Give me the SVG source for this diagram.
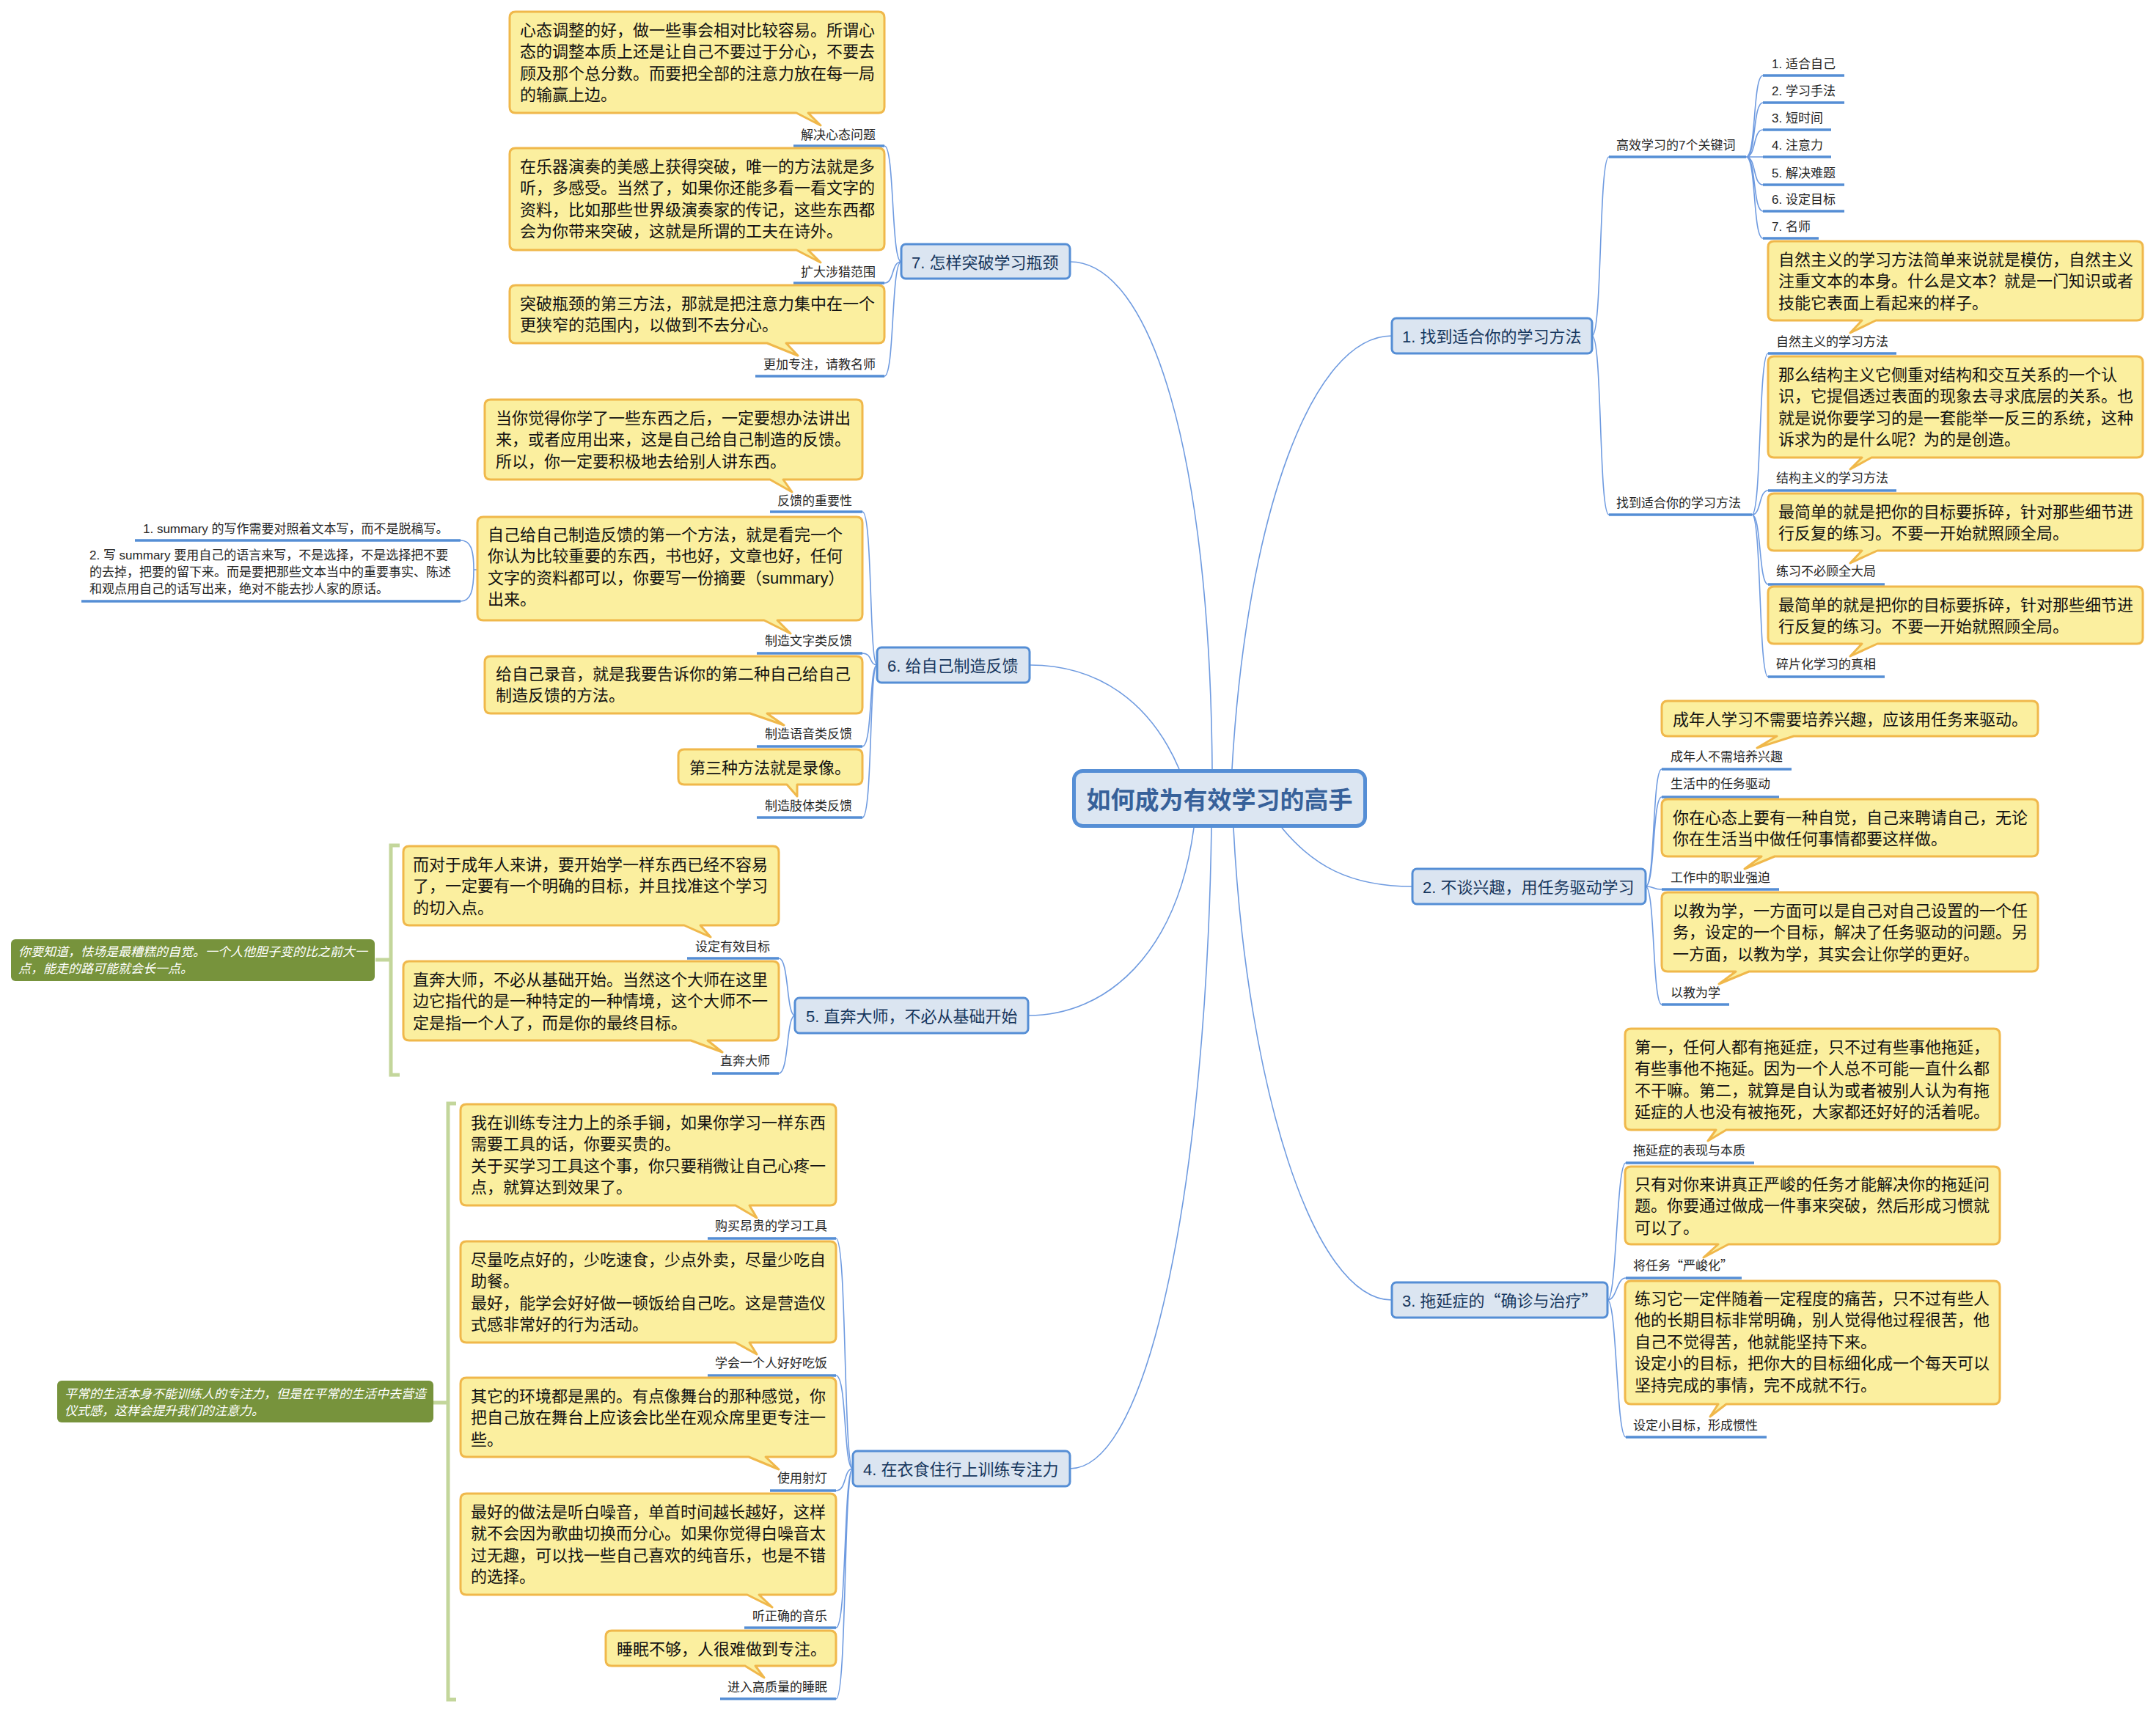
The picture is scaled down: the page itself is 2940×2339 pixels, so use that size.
<svg xmlns="http://www.w3.org/2000/svg" width="2940" height="2339" viewBox="0 0 2940 2339">
<style>
text{font-family:"Liberation Sans","Noto Sans CJK SC",sans-serif}
.cj{font-family:"Noto Sans CJK SC",sans-serif}
.co{fill:#fbef9f;stroke:#f0b84b;stroke-width:3;stroke-linejoin:round}
.ct{font-size:22px;fill:#111}
.lb{font-size:17px;fill:#262626}
.lbe{font-size:17px;fill:#262626;text-anchor:end}
.ul{stroke:#558ed5;stroke-width:3.5;fill:none}
.ln{stroke:#6f9be0;stroke-width:1.6;fill:none}
.mt{fill:#dbe5f1;stroke:#558ed5;stroke-width:3}
.mtt{font-size:22px;fill:#17375e}
.sm{fill:#77933c}
.smt{font-size:17px;font-style:italic;fill:#fff}
.br{stroke:#c3d69b;stroke-width:5;fill:none}
</style>
<rect width="2940" height="2339" fill="#fff"/>

<g id="connectors">
<path class="ln" d="M1653,1049 C1650,620 1570,357 1459,357"/>
<path class="ln" d="M1608,1049 C1570,960 1500,907 1404,907"/>
<path class="ln" d="M1680,1049 C1700,700 1790,458 1898,458"/>
<path class="ln" d="M1748,1129 C1790,1180 1840,1209 1926,1209"/>
<path class="ln" d="M1682,1129 C1700,1480 1790,1773 1898,1773"/>
<path class="ln" d="M1652,1129 C1645,1600 1570,2003 1459,2003"/>
<path class="ln" d="M1628,1129 C1605,1300 1510,1385 1402,1385"/>
<path class="ln" d="M1229,357 C1215,357 1220,199 1206,199 M1229,357 C1215,357 1220,386 1206,386 M1229,357 C1215,357 1220,513 1206,513"/>
<path class="ln" d="M1196,907 C1185,907 1190,698 1176,698 M1196,907 C1185,907 1190,891 1176,891 M1196,907 C1185,907 1190,1018 1176,1018 M1196,907 C1185,907 1190,1115 1176,1115"/>
<path class="ln" d="M628,737 C642,737 646,750 646,777 M628,820 C642,820 646,805 646,777 M646,777 H651"/>
<path class="ln" d="M1084,1385 C1072,1385 1076,1307 1062,1307 M1084,1385 C1072,1385 1076,1464 1062,1464"/>
<path class="ln" d="M1163,2003 C1150,2003 1155,1689 1140,1689 M1163,2003 C1150,2003 1155,1876 1140,1876 M1163,2003 C1150,2003 1155,2033 1140,2033 M1163,2003 C1150,2003 1155,2220 1140,2220 M1163,2003 C1150,2003 1155,2317 1140,2317"/>
<path class="ln" d="M2171,458 C2185,458 2180,214 2194,214 M2171,458 C2185,458 2180,702 2194,702"/>
<path class="ln" d="M2381,214 C2395,214 2390,103 2404,103 M2381,214 C2395,214 2390,140 2404,140 M2381,214 C2395,214 2390,177 2404,177 M2381,214 H2404 M2381,214 C2395,214 2390,252 2404,252 M2381,214 C2395,214 2390,288 2404,288 M2381,214 C2395,214 2390,325 2404,325"/>
<path class="ln" d="M2389,702 C2402,702 2398,482 2411,482 M2389,702 C2402,702 2398,669 2411,669 M2389,702 C2402,702 2398,797 2411,797 M2389,702 C2402,702 2398,923 2411,923"/>
<path class="ln" d="M2244,1209 C2257,1209 2253,1049 2266,1049 M2244,1209 C2257,1209 2253,1087 2266,1087 M2244,1209 C2257,1209 2253,1213 2266,1213 M2244,1209 C2257,1209 2253,1370 2266,1370"/>
<path class="ln" d="M2192,1773 C2205,1773 2204,1586 2217,1586 M2192,1773 C2205,1773 2204,1743 2217,1743 M2192,1773 C2205,1773 2204,1960 2217,1960"/>
</g>

<g id="central">
<rect x="1464.5" y="1051.5" width="397" height="75" rx="12" fill="#dce6f2" stroke="#558ed5" stroke-width="5"/>
<text x="1663" y="1103" text-anchor="middle" font-size="33" font-weight="bold" fill="#37619a">如何成为有效学习的高手</text>
</g>

<!-- Topic 7 -->
<g id="topic7">
<rect class="mt" x="1229" y="333" width="230" height="47" rx="6"/>
<text class="mtt" x="1243" y="366">7. 怎样突破学习瓶颈</text>
</g>
<g id="t7-a">
<path class="co" d="M703,16 H1198 Q1206,16 1206,24 V146 Q1206,154 1198,154 H1102 L1119,171 L1086,154 H703 Q695,154 695,146 V24 Q695,16 703,16 Z"/>
<text class="ct" x="709"><tspan x="709" y="49">心态调整的好，做一些事会相对比较容易。所谓心</tspan><tspan x="709" y="78">态的调整本质上还是让自己不要过于分心，不要去</tspan><tspan x="709" y="108">顾及那个总分数。而要把全部的注意力放在每一局</tspan><tspan x="709" y="137">的输赢上边。</tspan></text>
<text class="lbe" x="1194" y="190">解决心态问题</text>
<line class="ul" x1="1082" y1="199" x2="1206" y2="199"/>
</g>
<g id="t7-b">
<path class="co" d="M703,202 H1198 Q1206,202 1206,210 V333 Q1206,341 1198,341 H1102 L1119,358 L1086,341 H703 Q695,341 695,333 V210 Q695,202 703,202 Z"/>
<text class="ct"><tspan x="709" y="235">在乐器演奏的美感上获得突破，唯一的方法就是多</tspan><tspan x="709" y="264">听，多感受。当然了，如果你还能多看一看文字的</tspan><tspan x="709" y="294">资料，比如那些世界级演奏家的传记，这些东西都</tspan><tspan x="709" y="323">会为你带来突破，这就是所谓的工夫在诗外。</tspan></text>
<text class="lbe" x="1194" y="377">扩大涉猎范围</text>
<line class="ul" x1="1082" y1="386" x2="1206" y2="386"/>
</g>
<g id="t7-c">
<path class="co" d="M703,389 H1198 Q1206,389 1206,397 V460 Q1206,468 1198,468 H1072 L1088,485 L1046,468 H703 Q695,468 695,460 V397 Q695,389 703,389 Z"/>
<text class="ct"><tspan x="709" y="422">突破瓶颈的第三方法，那就是把注意力集中在一个</tspan><tspan x="709" y="451">更狭窄的范围内，以做到不去分心。</tspan></text>
<text class="lbe" x="1194" y="503">更加专注，请教名师</text>
<line class="ul" x1="1030" y1="513" x2="1206" y2="513"/>
</g>

<!-- Topic 6 -->
<g id="topic6">
<rect class="mt" x="1196" y="883" width="208" height="48" rx="6"/>
<text class="mtt" x="1210" y="916">6. 给自己制造反馈</text>
</g>
<g id="t6-a">
<path class="co" d="M669,545 H1168 Q1176,545 1176,553 V646 Q1176,654 1168,654 H1068 L1080,671 L1050,654 H669 Q661,654 661,646 V553 Q661,545 669,545 Z"/>
<text class="ct"><tspan x="676" y="578">当你觉得你学了一些东西之后，一定要想办法讲出</tspan><tspan x="676" y="607">来，或者应用出来，这是自己给自己制造的反馈。</tspan><tspan x="676" y="637">所以，你一定要积极地去给别人讲东西。</tspan></text>
<text class="lbe" x="1162" y="689">反馈的重要性</text>
<line class="ul" x1="1050" y1="698" x2="1176" y2="698"/>
</g>
<g id="t6-b">
<path class="co" d="M659,705 H1168 Q1176,705 1176,713 V838 Q1176,846 1168,846 H1060 L1078,864 L1042,846 H659 Q651,846 651,838 V713 Q651,705 659,705 Z"/>
<text class="ct"><tspan x="665" y="737">自己给自己制造反馈的第一个方法，就是看完一个</tspan><tspan x="665" y="766">你认为比较重要的东西，书也好，文章也好，任何</tspan><tspan x="665" y="796">文字的资料都可以，你要写一份摘要（summary）</tspan><tspan x="665" y="825">出来。</tspan></text>
<text class="lbe" x="1162" y="880">制造文字类反馈</text>
<line class="ul" x1="1032" y1="891" x2="1176" y2="891"/>
</g>
<g id="t6-b1">
<text class="lb" x="195" y="727">1. summary 的写作需要对照着文本写，而不是脱稿写。</text>
<line class="ul" x1="184" y1="737" x2="628" y2="737"/>
</g>
<g id="t6-b2">
<text class="lb"><tspan x="122" y="763">2. 写 summary 要用自己的语言来写，不是选择，不是选择把不要</tspan><tspan x="122" y="786">的去掉，把要的留下来。而是要把那些文本当中的重要事实、陈述</tspan><tspan x="122" y="809">和观点用自己的话写出来，绝对不能去抄人家的原话。</tspan></text>
<line class="ul" x1="111" y1="820" x2="628" y2="820"/>
</g>
<g id="t6-c">
<path class="co" d="M669,895 H1168 Q1176,895 1176,903 V965 Q1176,973 1168,973 H1046 L1069,989 L1023,973 H669 Q661,973 661,965 V903 Q661,895 669,895 Z"/>
<text class="ct"><tspan x="676" y="927">给自己录音，就是我要告诉你的第二种自己给自己</tspan><tspan x="676" y="956">制造反馈的方法。</tspan></text>
<text class="lbe" x="1162" y="1007">制造语音类反馈</text>
<line class="ul" x1="1032" y1="1018" x2="1176" y2="1018"/>
</g>
<g id="t6-d">
<path class="co" d="M933,1022 H1168 Q1176,1022 1176,1030 V1062 Q1176,1070 1168,1070 H1087 L1087,1086 L1073,1070 H933 Q925,1070 925,1062 V1030 Q925,1022 933,1022 Z"/>
<text class="ct" x="940" y="1055">第三种方法就是录像。</text>
<text class="lbe" x="1162" y="1105">制造肢体类反馈</text>
<line class="ul" x1="1032" y1="1115" x2="1176" y2="1115"/>
</g>

<!-- Topic 5 -->
<g id="topic5">
<rect class="mt" x="1084" y="1361" width="318" height="48" rx="6"/>
<text class="mtt" x="1099" y="1394">5. 直奔大师，不必从基础开始</text>
</g>
<g id="t5-a">
<path class="co" d="M558,1154 H1054 Q1062,1154 1062,1162 V1254 Q1062,1262 1054,1262 H955 L969,1278 L933,1262 H558 Q550,1262 550,1254 V1162 Q550,1154 558,1154 Z"/>
<text class="ct"><tspan x="563" y="1187">而对于成年人来讲，要开始学一样东西已经不容易</tspan><tspan x="563" y="1216">了，一定要有一个明确的目标，并且找准这个学习</tspan><tspan x="563" y="1246">的切入点。</tspan></text>
<text class="lbe" x="1050" y="1297">设定有效目标</text>
<line class="ul" x1="937" y1="1307" x2="1062" y2="1307"/>
</g>
<g id="t5-b">
<path class="co" d="M558,1311 H1054 Q1062,1311 1062,1319 V1411 Q1062,1419 1054,1419 H965 L985,1435 L942,1419 H558 Q550,1419 550,1411 V1319 Q550,1311 558,1311 Z"/>
<text class="ct"><tspan x="563" y="1344">直奔大师，不必从基础开始。当然这个大师在这里</tspan><tspan x="563" y="1373">边它指代的是一种特定的一种情境，这个大师不一</tspan><tspan x="563" y="1403">定是指一个人了，而是你的最终目标。</tspan></text>
<text class="lbe" x="1050" y="1453">直奔大师</text>
<line class="ul" x1="971" y1="1464" x2="1062" y2="1464"/>
</g>
<g id="t5-summary">
<path class="br" d="M545,1153 H533 V1466 H545 M512,1309 H533"/>
<rect class="sm" x="15" y="1281" width="496" height="57" rx="6"/>
<text class="smt"><tspan x="25" y="1304">你要知道，怯场是最糟糕的自觉。一个人他胆子变的比之前大一</tspan><tspan x="25" y="1327">点，能走的路可能就会长一点。</tspan></text>
</g>

<!-- Topic 4 -->
<g id="topic4">
<rect class="mt" x="1163" y="1979" width="296" height="48" rx="6"/>
<text class="mtt" x="1177" y="2012">4. 在衣食住行上训练专注力</text>
</g>
<g id="t4-a">
<path class="co" d="M636,1506 H1132 Q1140,1506 1140,1514 V1636 Q1140,1644 1132,1644 H1022 L1032,1661 L1003,1644 H636 Q628,1644 628,1636 V1514 Q628,1506 636,1506 Z"/>
<text class="ct"><tspan x="642" y="1539">我在训练专注力上的杀手锏，如果你学习一样东西</tspan><tspan x="642" y="1568">需要工具的话，你要买贵的。</tspan><tspan x="642" y="1598">关于买学习工具这个事，你只要稍微让自己心疼一</tspan><tspan x="642" y="1627">点，就算达到效果了。</tspan></text>
<text class="lbe" x="1128" y="1678">购买昂贵的学习工具</text>
<line class="ul" x1="965" y1="1689" x2="1140" y2="1689"/>
</g>
<g id="t4-b">
<path class="co" d="M636,1693 H1132 Q1140,1693 1140,1701 V1823 Q1140,1831 1132,1831 H1022 L1032,1847 L1003,1831 H636 Q628,1831 628,1823 V1701 Q628,1693 636,1693 Z"/>
<text class="ct"><tspan x="642" y="1726">尽量吃点好的，少吃速食，少点外卖，尽量少吃自</tspan><tspan x="642" y="1755">助餐。</tspan><tspan x="642" y="1785">最好，能学会好好做一顿饭给自己吃。这是营造仪</tspan><tspan x="642" y="1814">式感非常好的行为活动。</tspan></text>
<text class="lbe" x="1128" y="1865">学会一个人好好吃饭</text>
<line class="ul" x1="965" y1="1876" x2="1140" y2="1876"/>
</g>
<g id="t4-c">
<path class="co" d="M636,1879 H1132 Q1140,1879 1140,1887 V1979 Q1140,1987 1132,1987 H1044 L1062,2004 L1021,1987 H636 Q628,1987 628,1979 V1887 Q628,1879 636,1879 Z"/>
<text class="ct"><tspan x="642" y="1912">其它的环境都是黑的。有点像舞台的那种感觉，你</tspan><tspan x="642" y="1941">把自己放在舞台上应该会比坐在观众席里更专注一</tspan><tspan x="642" y="1971">些。</tspan></text>
<text class="lbe" x="1128" y="2022">使用射灯</text>
<line class="ul" x1="1050" y1="2033" x2="1140" y2="2033"/>
</g>
<g id="t4-d">
<path class="co" d="M636,2037 H1132 Q1140,2037 1140,2045 V2167 Q1140,2175 1132,2175 H1035 L1053,2192 L1019,2175 H636 Q628,2175 628,2167 V2045 Q628,2037 636,2037 Z"/>
<text class="ct"><tspan x="642" y="2070">最好的做法是听白噪音，单首时间越长越好，这样</tspan><tspan x="642" y="2099">就不会因为歌曲切换而分心。如果你觉得白噪音太</tspan><tspan x="642" y="2129">过无趣，可以找一些自己喜欢的纯音乐，也是不错</tspan><tspan x="642" y="2158">的选择。</tspan></text>
<text class="lbe" x="1128" y="2210">听正确的音乐</text>
<line class="ul" x1="1015" y1="2220" x2="1140" y2="2220"/>
</g>
<g id="t4-e">
<path class="co" d="M834,2224 H1132 Q1140,2224 1140,2232 V2264 Q1140,2272 1132,2272 H1030 L1042,2288 L1016,2272 H834 Q826,2272 826,2264 V2232 Q826,2224 834,2224 Z"/>
<text class="ct" x="841" y="2257">睡眠不够，人很难做到专注。</text>
<text class="lbe" x="1128" y="2307">进入高质量的睡眠</text>
<line class="ul" x1="982" y1="2317" x2="1140" y2="2317"/>
</g>
<g id="t4-summary">
<path class="br" d="M622,1505 H611 V2318 H622 M590,1913 H611"/>
<rect class="sm" x="78" y="1883" width="513" height="57" rx="6"/>
<text class="smt"><tspan x="88" y="1907">平常的生活本身不能训练人的专注力，但是在平常的生活中去营造</tspan><tspan x="88" y="1930">仪式感，这样会提升我们的注意力。</tspan></text>
</g>

<!-- Topic 1 -->
<g id="topic1">
<rect class="mt" x="1898" y="434" width="273" height="48" rx="6"/>
<text class="mtt" x="1912" y="467">1. 找到适合你的学习方法</text>
</g>
<g id="t1-keywords">
<text class="lb" x="2204" y="204">高效学习的7个关键词</text>
<line class="ul" x1="2194" y1="214" x2="2381" y2="214"/>
</g>
<g id="t1-k1"><text class="lb" x="2416" y="93">1. 适合自己</text><line class="ul" x1="2404" y1="103" x2="2515" y2="103"/></g>
<g id="t1-k2"><text class="lb" x="2416" y="130">2. 学习手法</text><line class="ul" x1="2404" y1="140" x2="2515" y2="140"/></g>
<g id="t1-k3"><text class="lb" x="2416" y="167">3. 短时间</text><line class="ul" x1="2404" y1="177" x2="2497" y2="177"/></g>
<g id="t1-k4"><text class="lb" x="2416" y="204">4. 注意力</text><line class="ul" x1="2404" y1="214" x2="2497" y2="214"/></g>
<g id="t1-k5"><text class="lb" x="2416" y="242">5. 解决难题</text><line class="ul" x1="2404" y1="252" x2="2515" y2="252"/></g>
<g id="t1-k6"><text class="lb" x="2416" y="278">6. 设定目标</text><line class="ul" x1="2404" y1="288" x2="2515" y2="288"/></g>
<g id="t1-k7"><text class="lb" x="2416" y="315">7. 名师</text><line class="ul" x1="2404" y1="325" x2="2480" y2="325"/></g>
<g id="t1-methods">
<text class="lb" x="2204" y="692">找到适合你的学习方法</text>
<line class="ul" x1="2194" y1="702" x2="2389" y2="702"/>
</g>
<g id="t1-m1">
<path class="co" d="M2419,329 H2914 Q2922,329 2922,337 V429 Q2922,437 2914,437 H2558 L2523,454 L2539,437 H2419 Q2411,437 2411,429 V337 Q2411,329 2419,329 Z"/>
<text class="ct"><tspan x="2425" y="362">自然主义的学习方法简单来说就是模仿，自然主义</tspan><tspan x="2425" y="391">注重文本的本身。什么是文本？就是一门知识或者</tspan><tspan x="2425" y="421">技能它表面上看起来的样子。</tspan></text>
<text class="lb" x="2422" y="472">自然主义的学习方法</text>
<line class="ul" x1="2411" y1="482" x2="2586" y2="482"/>
</g>
<g id="t1-m2">
<path class="co" d="M2419,486 H2914 Q2922,486 2922,494 V616 Q2922,624 2914,624 H2552 L2523,640 L2539,624 H2419 Q2411,624 2411,616 V494 Q2411,486 2419,486 Z"/>
<text class="ct"><tspan x="2425" y="519">那么结构主义它侧重对结构和交互关系的一个认</tspan><tspan x="2425" y="548">识，它提倡透过表面的现象去寻求底层的关系。也</tspan><tspan x="2425" y="578">就是说你要学习的是一套能举一反三的系统，这种</tspan><tspan x="2425" y="607">诉求为的是什么呢？为的是创造。</tspan></text>
<text class="lb" x="2422" y="658">结构主义的学习方法</text>
<line class="ul" x1="2411" y1="669" x2="2586" y2="669"/>
</g>
<g id="t1-m3">
<path class="co" d="M2419,673 H2914 Q2922,673 2922,681 V743 Q2922,751 2914,751 H2560 L2523,768 L2539,751 H2419 Q2411,751 2411,743 V681 Q2411,673 2419,673 Z"/>
<text class="ct"><tspan x="2425" y="706">最简单的就是把你的目标要拆碎，针对那些细节进</tspan><tspan x="2425" y="735">行反复的练习。不要一开始就照顾全局。</tspan></text>
<text class="lb" x="2422" y="785">练习不必顾全大局</text>
<line class="ul" x1="2411" y1="797" x2="2570" y2="797"/>
</g>
<g id="t1-m4">
<path class="co" d="M2419,800 H2914 Q2922,800 2922,808 V870 Q2922,878 2914,878 H2560 L2523,895 L2539,878 H2419 Q2411,878 2411,870 V808 Q2411,800 2419,800 Z"/>
<text class="ct"><tspan x="2425" y="833">最简单的就是把你的目标要拆碎，针对那些细节进</tspan><tspan x="2425" y="862">行反复的练习。不要一开始就照顾全局。</tspan></text>
<text class="lb" x="2422" y="912">碎片化学习的真相</text>
<line class="ul" x1="2411" y1="923" x2="2570" y2="923"/>
</g>

<!-- Topic 2 -->
<g id="topic2">
<rect class="mt" x="1926" y="1185" width="318" height="48" rx="6"/>
<text class="mtt" x="1940" y="1218">2. 不谈兴趣，用任务驱动学习</text>
</g>
<g id="t2-a">
<path class="co" d="M2274,956 H2771 Q2779,956 2779,964 V996 Q2779,1004 2771,1004 H2446 L2396,1020 L2423,1004 H2274 Q2266,1004 2266,996 V964 Q2266,956 2274,956 Z"/>
<text class="ct" x="2281" y="989">成年人学习不需要培养兴趣，应该用任务来驱动。</text>
<text class="lb" x="2278" y="1038">成年人不需培养兴趣</text>
<line class="ul" x1="2266" y1="1049" x2="2443" y2="1049"/>
</g>
<g id="t2-b">
<text class="lb" x="2278" y="1075">生活中的任务驱动</text>
<line class="ul" x1="2266" y1="1087" x2="2426" y2="1087"/>
</g>
<g id="t2-c">
<path class="co" d="M2274,1090 H2771 Q2779,1090 2779,1098 V1160 Q2779,1168 2771,1168 H2420 L2379,1185 L2402,1168 H2274 Q2266,1168 2266,1160 V1098 Q2266,1090 2274,1090 Z"/>
<text class="ct"><tspan x="2281" y="1123">你在心态上要有一种自觉，自己来聘请自己，无论</tspan><tspan x="2281" y="1152">你在生活当中做任何事情都要这样做。</tspan></text>
<text class="lb" x="2278" y="1203">工作中的职业强迫</text>
<line class="ul" x1="2266" y1="1213" x2="2426" y2="1213"/>
</g>
<g id="t2-d">
<path class="co" d="M2274,1217 H2771 Q2779,1217 2779,1225 V1317 Q2779,1325 2771,1325 H2385 L2344,1342 L2367,1325 H2274 Q2266,1325 2266,1317 V1225 Q2266,1217 2274,1217 Z"/>
<text class="ct"><tspan x="2281" y="1250">以教为学，一方面可以是自己对自己设置的一个任</tspan><tspan x="2281" y="1279">务，设定的一个目标，解决了任务驱动的问题。另</tspan><tspan x="2281" y="1309">一方面，以教为学，其实会让你学的更好。</tspan></text>
<text class="lb" x="2278" y="1360">以教为学</text>
<line class="ul" x1="2266" y1="1370" x2="2358" y2="1370"/>
</g>

<!-- Topic 3 -->
<g id="topic3">
<rect class="mt" x="1898" y="1749" width="294" height="48" rx="6"/>
<text class="mtt" x="1912" y="1782">3. 拖延症的<tspan class="cj">“</tspan>确诊与治疗<tspan class="cj">”</tspan></text>
</g>
<g id="t3-a">
<path class="co" d="M2224,1403 H2719 Q2727,1403 2727,1411 V1533 Q2727,1541 2719,1541 H2354 L2329,1556 L2340,1541 H2224 Q2216,1541 2216,1533 V1411 Q2216,1403 2224,1403 Z"/>
<text class="ct"><tspan x="2229" y="1436">第一，任何人都有拖延症，只不过有些事他拖延，</tspan><tspan x="2229" y="1465">有些事他不拖延。因为一个人总不可能一直什么都</tspan><tspan x="2229" y="1495">不干嘛。第二，就算是自认为或者被别人认为有拖</tspan><tspan x="2229" y="1524">延症的人也没有被拖死，大家都还好好的活着呢。</tspan></text>
<text class="lb" x="2227" y="1575">拖延症的表现与本质</text>
<line class="ul" x1="2217" y1="1586" x2="2392" y2="1586"/>
</g>
<g id="t3-b">
<path class="co" d="M2224,1591 H2719 Q2727,1591 2727,1599 V1689 Q2727,1697 2719,1697 H2357 L2323,1715 L2343,1697 H2224 Q2216,1697 2216,1689 V1599 Q2216,1591 2224,1591 Z"/>
<text class="ct"><tspan x="2229" y="1623">只有对你来讲真正严峻的任务才能解决你的拖延问</tspan><tspan x="2229" y="1652">题。你要通过做成一件事来突破，然后形成习惯就</tspan><tspan x="2229" y="1682">可以了。</tspan></text>
<text class="lb" x="2227" y="1732">将任务<tspan class="cj">“</tspan>严峻化<tspan class="cj">”</tspan></text>
<line class="ul" x1="2217" y1="1743" x2="2375" y2="1743"/>
</g>
<g id="t3-c">
<path class="co" d="M2224,1747 H2719 Q2727,1747 2727,1755 V1907 Q2727,1915 2719,1915 H2354 L2332,1932 L2343,1915 H2224 Q2216,1915 2216,1907 V1755 Q2216,1747 2224,1747 Z"/>
<text class="ct"><tspan x="2229" y="1779">练习它一定伴随着一定程度的痛苦，只不过有些人</tspan><tspan x="2229" y="1808">他的长期目标非常明确，别人觉得他过程很苦，他</tspan><tspan x="2229" y="1838">自己不觉得苦，他就能坚持下来。</tspan><tspan x="2229" y="1867">设定小的目标，把你大的目标细化成一个每天可以</tspan><tspan x="2229" y="1897">坚持完成的事情，完不成就不行。</tspan></text>
<text class="lb" x="2227" y="1950">设定小目标，形成惯性</text>
<line class="ul" x1="2217" y1="1960" x2="2409" y2="1960"/>
</g>
</svg>
